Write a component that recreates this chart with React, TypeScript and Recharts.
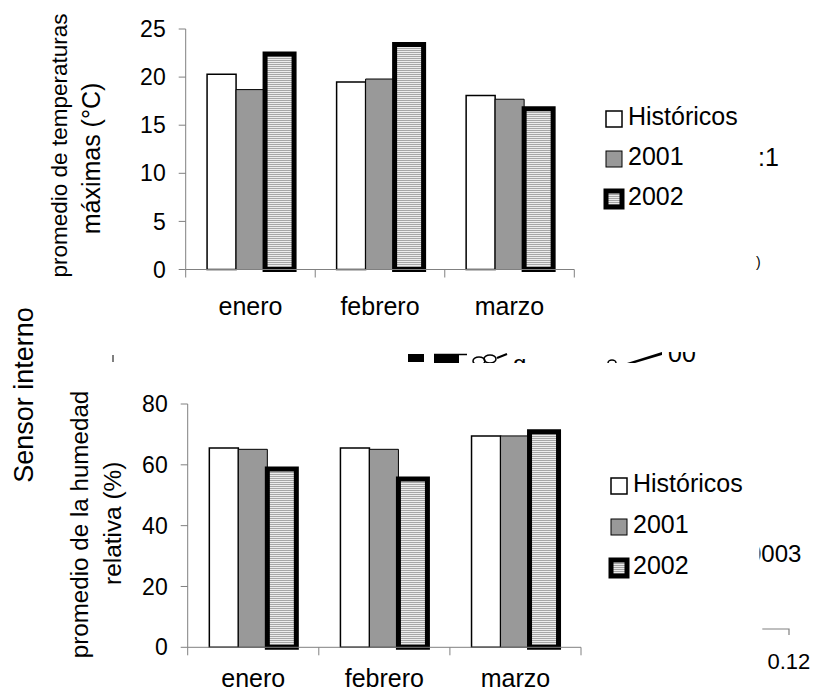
import { Bar, BarChart, Legend, XAxis, YAxis } from "recharts";

const months = ["enero", "febrero", "marzo"];
const seriesNames = ["Históricos", "2001", "2002"];

const tempHist = [20.3, 19.5, 18.1];
const temp2001 = [18.7, 19.8, 17.7];
const temp2002 = [22.4, 23.4, 16.7];
const tempTicks = [0, 5, 10, 15, 20, 25];

const humHist = [65.5, 65.5, 69.5];
const hum2001 = [65.1, 65.1, 69.5];
const hum2002 = [58.6, 55.3, 70.9];
const humTicks = [0, 20, 40, 60, 80];

const FONT = "'Liberation Sans', Arial, sans-serif";
const AXIS = "#808080";

const tempData = months.map((month, i) => ({
  month,
  hist: tempHist[i],
  y2001: temp2001[i],
  y2002: temp2002[i],
}));

const humData = months.map((month, i) => ({
  month,
  hist: humHist[i],
  y2001: hum2001[i],
  y2002: hum2002[i],
}));

// Excel-style ticks: marks on category boundaries, label in the middle
function makeMonthTick(labelDy: number) {
  return function MonthTick(props: any) {
    const { x, y, payload, index, visibleTicksCount } = props;
    const half = payload?.offset ?? 0;
    const last = index === visibleTicksCount - 1;
    return (
      <g>
        <line x1={x - half} x2={x - half} y1={y} y2={y + 8} stroke={AXIS} />
        {last && <line x1={x + half} x2={x + half} y1={y} y2={y + 8} stroke={AXIS} />}
        <text x={x} y={y + labelDy} textAnchor="middle" fontSize={25} fontFamily={FONT} fill="#000">
          {payload.value}
        </text>
      </g>
    );
  };
}

function Swatch({ i, y }: { i: number; y: number }) {
  if (i === 0) return <rect x={6} y={y} width={16} height={16} fill="#fff" stroke="#000" strokeWidth={1.5} />;
  if (i === 1) return <rect x={6} y={y} width={16} height={16} fill="#999" stroke="#000" strokeWidth={1} />;
  return <rect x={6} y={y} width={16} height={16} fill="url(#stripes2002)" stroke="#000" strokeWidth={5} />;
}

function SeriesLegend({ rowGap }: { rowGap: number }) {
  return (
    <svg width={200} height={140} style={{ overflow: "visible" }}>
      {seriesNames.map((name, i) => (
        <g key={name}>
          <Swatch i={i} y={11 + i * rowGap} />
          <text x={28} y={24.5 + i * rowGap} fontSize={25} fontFamily={FONT} fill="#000">
            {name}
          </text>
        </g>
      ))}
    </svg>
  );
}

type PanelProps = {
  data: typeof tempData;
  ticks: number[];
  top: number;
  height: number;
  margin: { top: number; right: number; bottom: number; left: number };
  legendPos: { left: number; top: number };
  rowGap: number;
  labelDy: number;
};

function Panel({ data, ticks, top, height, margin, legendPos, rowGap, labelDy }: PanelProps) {
  return (
    <div style={{ position: "absolute", left: 0, top }}>
      <BarChart width={814} height={height} data={data} margin={margin} barGap={0} barCategoryGap="16.5%">
        <XAxis
          dataKey="month"
          height={60}
          tickLine={false}
          tickSize={0}
          tickMargin={0}
          axisLine={{ stroke: AXIS }}
          tick={makeMonthTick(labelDy)}
          interval={0}
        />
        <YAxis
          width={60}
          domain={[0, ticks[ticks.length - 1]]}
          ticks={ticks}
          interval={0}
          tickSize={7}
          tickMargin={13}
          axisLine={{ stroke: AXIS }}
          tickLine={{ stroke: AXIS }}
          tick={{ fontSize: 23, fill: "#000", fontFamily: FONT }}
        />
        <Legend
          layout="horizontal"
          align="center"
          verticalAlign="middle"
          wrapperStyle={{ left: legendPos.left, top: legendPos.top, width: 200, height: 140 }}
          content={() => <SeriesLegend rowGap={rowGap} />}
        />
        <Bar dataKey="hist" name={seriesNames[0]} fill="#fff" stroke="#000" strokeWidth={1.5} isAnimationActive={false} />
        <Bar dataKey="y2001" name={seriesNames[1]} fill="#999" stroke="#000" strokeWidth={1} isAnimationActive={false} />
        <Bar dataKey="y2002" name={seriesNames[2]} fill="url(#stripes2002)" stroke="#000" strokeWidth={5} isAnimationActive={false} />
      </BarChart>
    </div>
  );
}

export default function App() {
  return (
    <div style={{ position: "absolute", left: 0, top: 0, width: 814, height: 693, overflow: "hidden", background: "#fff" }}>
      <Panel
        data={tempData}
        ticks={tempTicks}
        top={0}
        height={340}
        margin={{ top: 29, right: 239.7, bottom: 10.5, left: 125.7 }}
        legendPos={{ left: 600, top: 100 }}
        rowGap={40}
        labelDy={45}
      />
      <Panel
        data={humData}
        ticks={humTicks}
        top={340}
        height={380}
        margin={{ top: 64, right: 233, bottom: 12.7, left: 127.7 }}
        legendPos={{ left: 605, top: 127 }}
        rowGap={41}
        labelDy={40}
      />
      <svg
        width={814}
        height={693}
        style={{ position: "absolute", left: 0, top: 0, pointerEvents: "none" }}
        fontFamily={FONT}
      >
        <defs>
          <pattern id="stripes2002" width={4} height={2} patternUnits="userSpaceOnUse">
            <rect width={4} height={2} fill="#ececec" />
            <rect width={4} height={1} fill="#a6a6a6" />
          </pattern>
          <clipPath id="clipRight">
            <rect x={759.5} y={530} width={60} height={40} />
          </clipPath>
          <clipPath id="clipBand">
            <rect x={380} y={352} width={340} height={11} />
          </clipPath>
        </defs>

        <text transform="rotate(-90 67 145.5)" x={67} y={145.5} textAnchor="middle" fontSize={22.5}>
          promedio de temperaturas
        </text>
        <text transform="rotate(-90 100 158.5)" x={100} y={158.5} textAnchor="middle" fontSize={25}>
          máximas (°C)
        </text>
        <text transform="rotate(-90 33 395)" x={33} y={395} textAnchor="middle" fontSize={27}>
          Sensor interno
        </text>
        <text transform="rotate(-90 88 524.5)" x={88} y={524.5} textAnchor="middle" fontSize={24.2}>
          promedio de la humedad
        </text>
        <text transform="rotate(-90 121.5 523.3)" x={121.5} y={523.3} textAnchor="middle" fontSize={24.4}>
          relativa (%)
        </text>

        {/* fragments of an overlapping figure */}
        <text x={758} y={166} fontSize={25}>:1</text>
        <text x={756} y={267} fontSize={14}>)</text>
        <g clipPath="url(#clipRight)">
          <text x={748} y={561.7} fontSize={24}>0003</text>
        </g>
        <text x={767.5} y={669.3} fontSize={22}>0.12</text>
        <polyline points="762.3,629 789,629 789,635" fill="none" stroke={AXIS} strokeWidth={1.2} />
        <line x1={113} x2={113} y1={355} y2={362} stroke="#000" />
        <g clipPath="url(#clipBand)">
          <rect x={408} y={354} width={16} height={8} fill="#000" />
          <rect x={434} y={354} width={25} height={9} fill="#000" />
          <line x1={434} x2={467} y1={354.5} y2={354.5} stroke="#000" strokeWidth={1.5} />
          <ellipse cx={479} cy={361} rx={6} ry={4} fill="none" stroke="#000" strokeWidth={1.5} />
          <ellipse cx={490} cy={359} rx={6} ry={4} fill="none" stroke="#000" strokeWidth={1.5} />
          <line x1={497} y1={358} x2={507} y2={354} stroke="#000" strokeWidth={2} />
          <text x={513} y={372} fontSize={24}>g</text>
          <ellipse cx={612} cy={363} rx={4} ry={3} fill="none" stroke="#000" strokeWidth={1.5} />
          <polygon points="627,363 662,352 662,355 635,363" fill="#000" />
          <text x={668} y={362} fontSize={25}>00</text>
        </g>
      </svg>
    </div>
  );
}
